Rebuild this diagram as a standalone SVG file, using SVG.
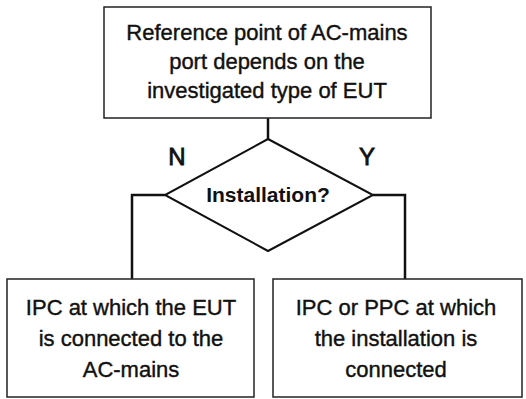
<svg xmlns="http://www.w3.org/2000/svg" width="526" height="399" viewBox="0 0 526 399">
<style>
.box{fill:#fff;stroke:#222;stroke-width:1.5}
.dia{fill:#fff;stroke:#111;stroke-width:2}
.con{fill:none;stroke:#111;stroke-width:2.5}
.t{font-family:"Liberation Sans",Arial,sans-serif;font-size:22px;fill:#111;text-anchor:middle;stroke:#111;stroke-width:0.4}
.b{font-family:"Liberation Sans",Arial,sans-serif;font-weight:bold;fill:#111;text-anchor:middle}
.yn{font-family:"Liberation Sans",Arial,sans-serif;font-size:24px;fill:#111;text-anchor:middle;stroke:#111;stroke-width:0.8}
</style>
<rect width="526" height="399" fill="#fff"/>
<g id="connectors">
<line class="con" x1="268" y1="118" x2="268" y2="139"/>
<polyline class="con" points="165,195 132,195 132,279"/>
<polyline class="con" points="373,195 405,195 405,279"/>
</g>
<g id="start">
<rect class="box" x="104" y="7" width="327" height="111"/>
<text class="t" x="267" y="40">Reference point of AC-mains</text>
<text class="t" x="267" y="69">port depends on the</text>
<text class="t" x="267" y="98">investigated type of EUT</text>
</g>
<g id="decision">
<polygon class="dia" points="268,139 373,195 268,251 165,195"/>
<text class="b" x="268" y="202" font-size="21">Installation?</text>
</g>
<g id="labels">
<text class="yn" x="177" y="165">N</text>
<text class="yn" x="367" y="165">Y</text>
</g>
<g id="no">
<rect class="box" x="7" y="279" width="247" height="118"/>
<text class="t" x="131" y="315">IPC at which the EUT</text>
<text class="t" x="131" y="346">is connected to the</text>
<text class="t" x="131" y="377">AC-mains</text>
</g>
<g id="yes">
<rect class="box" x="273" y="279" width="249" height="118"/>
<text class="t" x="396" y="315">IPC or PPC at which</text>
<text class="t" x="396" y="346">the installation is</text>
<text class="t" x="396" y="377">connected</text>
</g>
</svg>
